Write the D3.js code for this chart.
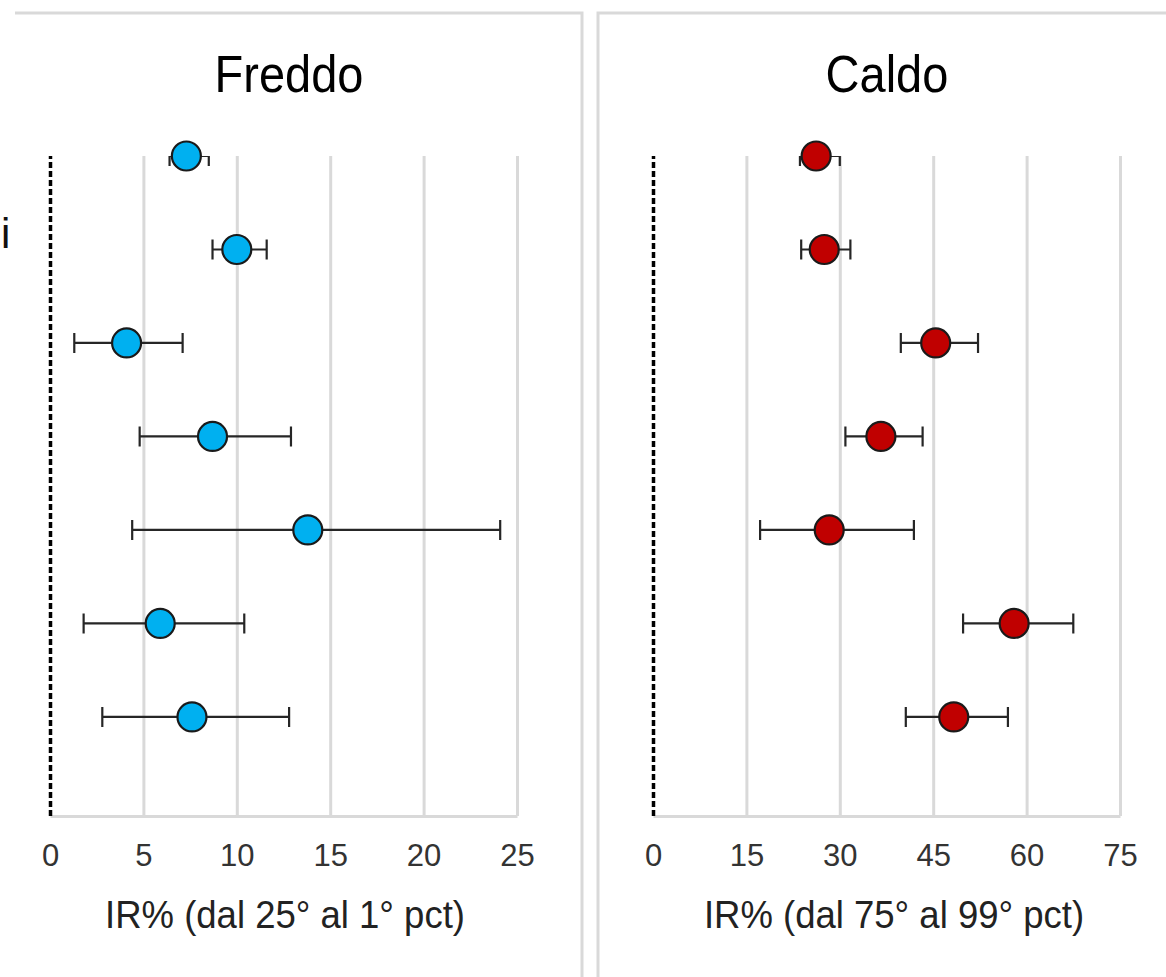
<!DOCTYPE html>
<html>
<head>
<meta charset="utf-8">
<script src="https://cdn.jsdelivr.net/npm/d3@7"></script>
<style>
  body { margin: 0; background: #fff; }
  svg { display: block; }
</style>
</head>
<body>
<div id="chart"></div>
<script>
var width = 1166, height = 977;
var plotTop = 156, plotBottom = 816;
var font = '"Liberation Sans", Arial, sans-serif';

// rows from top (7) to bottom (1)
var rows = [7, 6, 5, 4, 3, 2, 1];

var freddoVal  = [7.3, 10.0, 4.1, 8.7, 13.8, 5.9, 7.6];
var freddoLow  = [6.4, 8.7, 1.3, 4.8, 4.4, 1.8, 2.8];
var freddoHigh = [8.5, 11.6, 7.1, 12.9, 24.1, 10.4, 12.8];

var caldoVal  = [26.2, 27.5, 45.4, 36.6, 28.3, 58.0, 48.3];
var caldoLow  = [23.6, 23.8, 39.8, 30.9, 17.2, 49.8, 40.6];
var caldoHigh = [30.0, 31.7, 52.2, 43.3, 41.9, 67.5, 57.0];

var freddoTicks = [0, 5, 10, 15, 20, 25];
var caldoTicks  = [0, 15, 30, 45, 60, 75];

// the only visible piece of a row label, cut by the left edge
var cutLabel = 'i';
var cutLabelRow = 6;

var svg = d3.select('#chart')
    .append('svg')
    .attr('width', width)
    .attr('height', height);

var y = d3.scaleLinear()
    .domain([-0.06, 7])
    .range([plotBottom, plotTop]);

svg.append('defs').append('clipPath')
    .attr('id', 'plotclip')
    .append('rect')
    .attr('x', 0).attr('y', plotTop)
    .attr('width', width).attr('height', plotBottom - plotTop + 2);

// panel frames
var frame = '#d9d9d9';
svg.append('path')
    .attr('d', 'M15,13 H582 V' + height)
    .attr('fill', 'none').attr('stroke', frame).attr('stroke-width', 3);
svg.append('path')
    .attr('d', 'M598,' + height + ' V13 H' + width)
    .attr('fill', 'none').attr('stroke', frame).attr('stroke-width', 3);

// cut-off label
svg.append('text')
    .attr('x', 1)
    .attr('y', y(cutLabelRow) - 1)
    .attr('font-family', font)
    .attr('font-size', 42)
    .attr('fill', '#111')
    .text(cutLabel);

function panel(opts) {
    var x = d3.scaleLinear()
        .domain([0, opts.ticks[opts.ticks.length - 1]])
        .range([opts.x0, opts.x1]);

    var xAxis = d3.axisBottom(x)
        .tickValues(opts.ticks)
        .tickSize(-(plotBottom - plotTop))
        .tickSizeOuter(0)
        .tickPadding(0);

    var ax = svg.append('g')
        .attr('transform', 'translate(0,' + plotBottom + ')')
        .call(xAxis);

    ax.attr('font-family', font).attr('font-size', 31);
    ax.select('.domain').attr('stroke', frame).attr('stroke-width', 3);
    ax.selectAll('.tick line').attr('stroke', frame).attr('stroke-width', 3);
    ax.selectAll('.tick')
        .filter(function(d) { return d === 0; })
        .select('line')
        .attr('stroke', '#000')
        .attr('stroke-width', 3.5)
        .attr('stroke-dasharray', '6,3');
    ax.selectAll('.tick text')
        .attr('y', 50)
        .attr('dy', 0)
        .attr('fill', '#333');

    // title
    svg.append('g')
        .attr('transform', 'translate(' + opts.titleX + ',92) scale(1,1.1)')
        .append('text')
        .attr('text-anchor', 'middle')
        .attr('font-family', font)
        .attr('font-size', 47)
        .attr('fill', '#000')
        .text(opts.title);

    // axis title
    svg.append('g')
        .attr('transform', 'translate(' + opts.axisTitleX + ',928) scale(1,1.06)')
        .append('text')
        .attr('text-anchor', 'middle')
        .attr('font-family', font)
        .attr('font-size', 36.5)
        .attr('fill', '#222')
        .text(opts.axisTitle);

    var bars = svg.append('g').attr('clip-path', 'url(#plotclip)');
    var data = rows.map(function(r, i) {
        return { row: r, v: opts.val[i], lo: opts.low[i], hi: opts.high[i] };
    });

    bars.selectAll('.eb')
        .data(data)
        .enter()
        .append('path')
        .attr('class', 'eb')
        .attr('d', function(d) {
            var yy = y(d.row), a = x(d.lo), b = x(d.hi);
            return 'M' + a + ',' + (yy - 10) + 'V' + (yy + 10) +
                   'M' + a + ',' + yy + 'H' + b +
                   'M' + b + ',' + (yy - 10) + 'V' + (yy + 10);
        })
        .attr('fill', 'none')
        .attr('stroke', '#262626')
        .attr('stroke-width', 2.2);

    svg.selectAll('.dot-' + opts.title)
        .data(data)
        .enter()
        .append('circle')
        .attr('class', 'dot-' + opts.title)
        .attr('cx', function(d) { return x(d.v); })
        .attr('cy', function(d) { return y(d.row); })
        .attr('r', 14.5)
        .attr('fill', opts.color)
        .attr('stroke', '#1a1a1a')
        .attr('stroke-width', 2.2);
}

panel({
    x0: 50, x1: 517, ticks: freddoTicks,
    val: freddoVal, low: freddoLow, high: freddoHigh,
    color: '#00b0f0', title: 'Freddo', titleX: 289,
    axisTitle: 'IR% (dal 25° al 1° pct)', axisTitleX: 285
});

panel({
    x0: 653, x1: 1120, ticks: caldoTicks,
    val: caldoVal, low: caldoLow, high: caldoHigh,
    color: '#c00000', title: 'Caldo', titleX: 887,
    axisTitle: 'IR% (dal 75° al 99° pct)', axisTitleX: 894
});
</script>
</body>
</html>
